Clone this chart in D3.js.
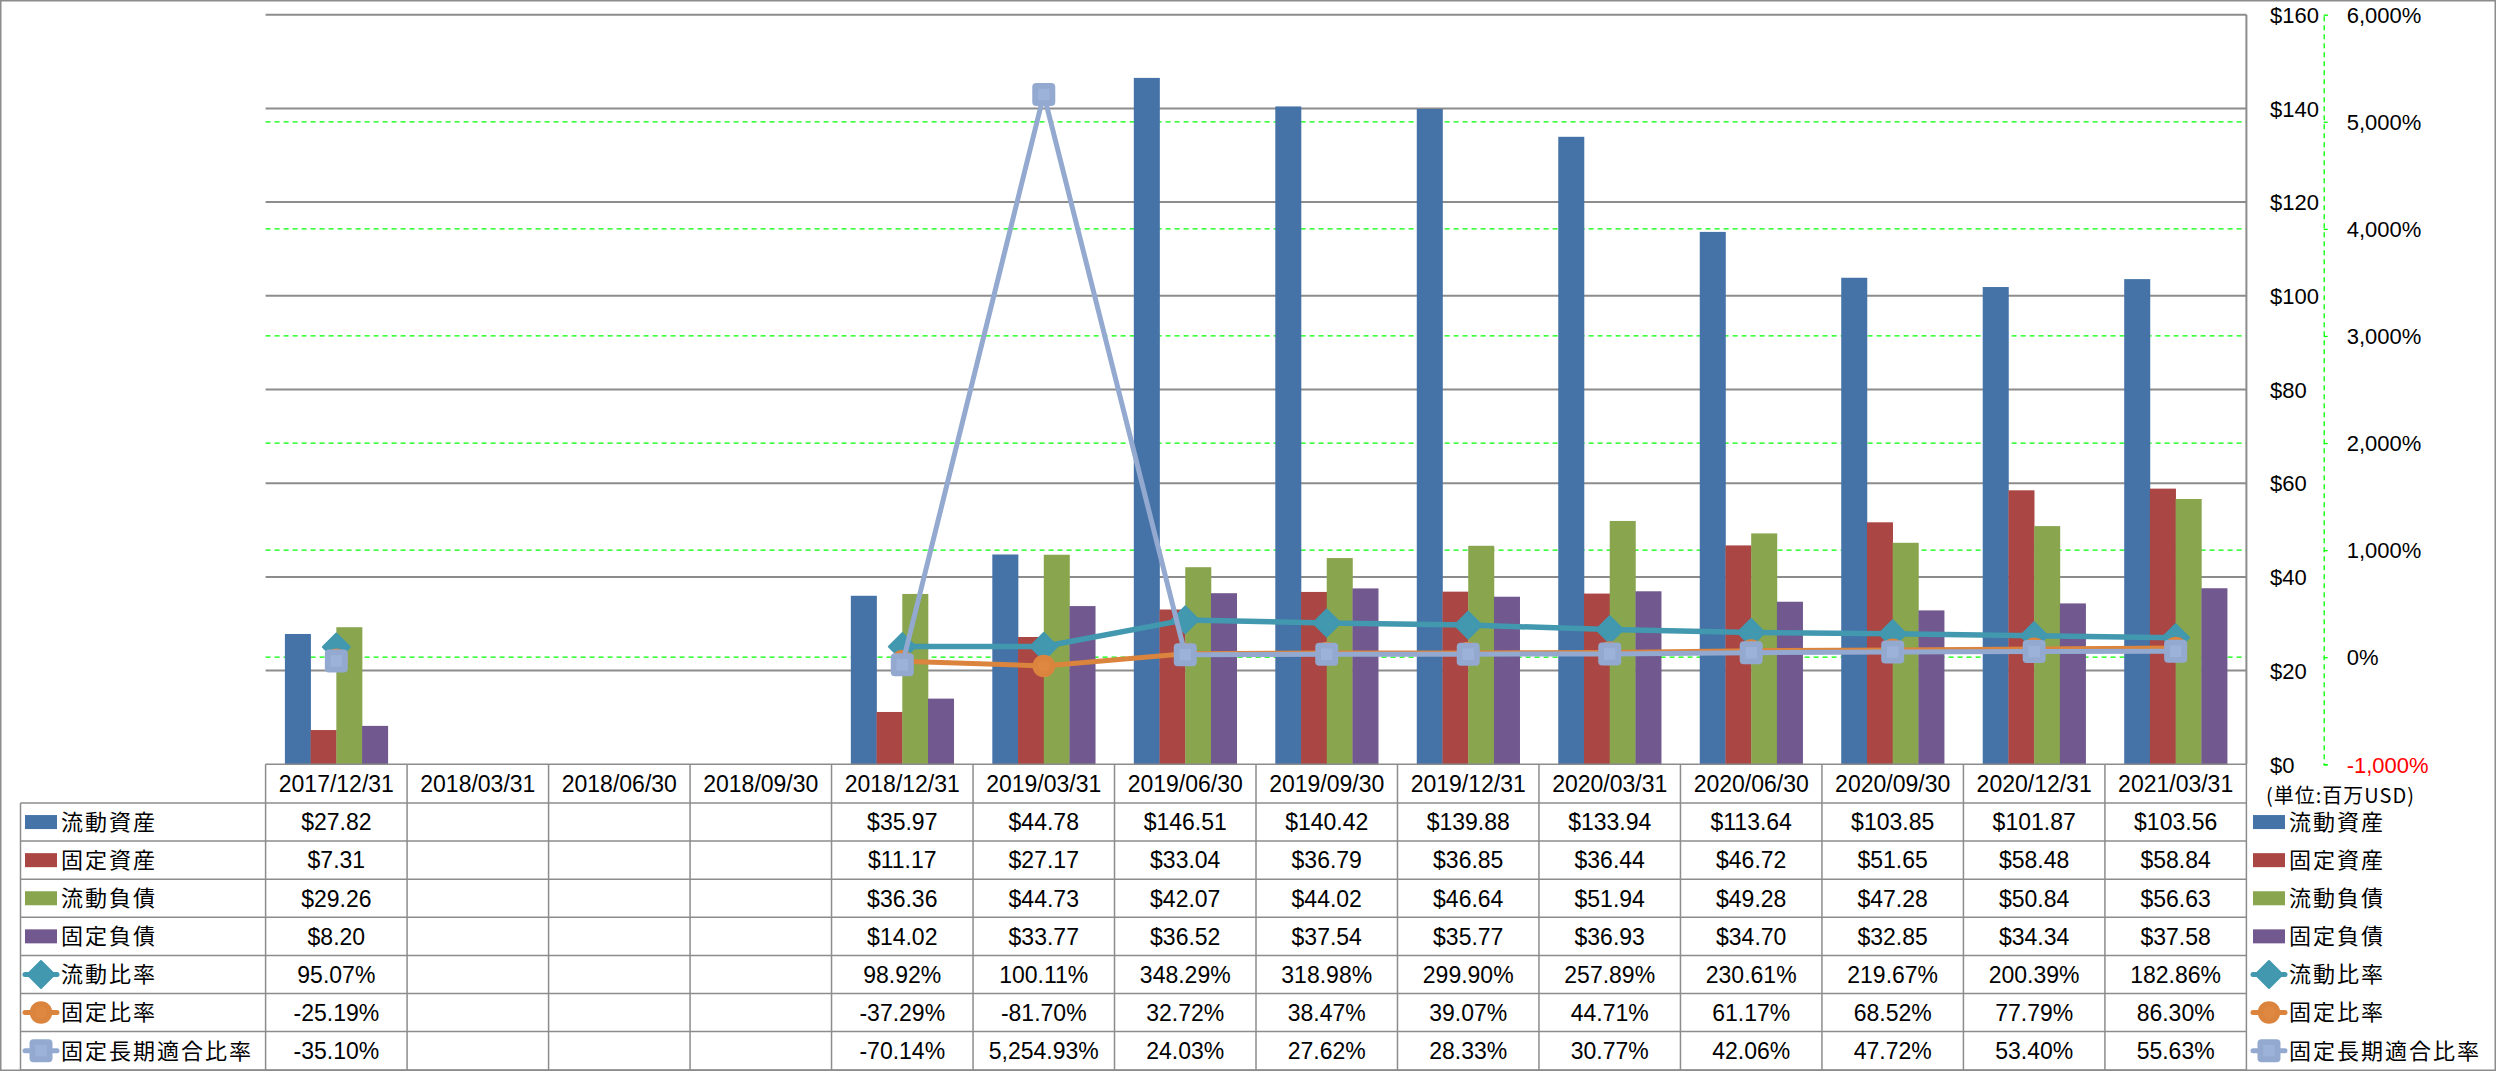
<!DOCTYPE html>
<html><head><meta charset="utf-8">
<script src="https://cdn.jsdelivr.net/npm/d3@7"></script>
<style>
html,body{margin:0;padding:0;background:#fff;}
svg{display:block;}
</style></head>
<body>
<svg id="chart" width="2496" height="1071"></svg>
<script>
// ---------- DATA ----------
const categories = ["2017/12/31","2018/03/31","2018/06/30","2018/09/30","2018/12/31","2019/03/31","2019/06/30","2019/09/30","2019/12/31","2020/03/31","2020/06/30","2020/09/30","2020/12/31","2021/03/31"];
const currentAssets   = [27.82, null, null, null, 35.97, 44.78, 146.51, 140.42, 139.88, 133.94, 113.64, 103.85, 101.87, 103.56];
const fixedAssets     = [7.31,  null, null, null, 11.17, 27.17, 33.04, 36.79, 36.85, 36.44, 46.72, 51.65, 58.48, 58.84];
const currentLiab     = [29.26, null, null, null, 36.36, 44.73, 42.07, 44.02, 46.64, 51.94, 49.28, 47.28, 50.84, 56.63];
const fixedLiab       = [8.20,  null, null, null, 14.02, 33.77, 36.52, 37.54, 35.77, 36.93, 34.70, 32.85, 34.34, 37.58];
const currentRatio    = [95.07, null, null, null, 98.92, 100.11, 348.29, 318.98, 299.90, 257.89, 230.61, 219.67, 200.39, 182.86];
const fixedRatio      = [-25.19, null, null, null, -37.29, -81.70, 32.72, 38.47, 39.07, 44.71, 61.17, 68.52, 77.79, 86.30];
const fixedLongRatio  = [-35.10, null, null, null, -70.14, 5254.93, 24.03, 27.62, 28.33, 30.77, 42.06, 47.72, 53.40, 55.63];
const barNames  = ["流動資産","固定資産","流動負債","固定負債"];
const lineNames = ["流動比率","固定比率","固定長期適合比率"];
const leftTicks  = [0,20,40,60,80,100,120,140,160];
const rightTicks = [-1000,0,1000,2000,3000,4000,5000,6000];
const unitLabel = "(単位:百万USD)";

// ---------- STYLE ----------
const barColors  = ["#4572A7","#AA4643","#89A54E","#71588F"];
const lineColors = ["#4198AF","#DB843D","#93A9CF"];
const markerTypes = ["diamond","circle","square"];
const gridGray = "#8c8c8c";
const numFont = "'Liberation Sans', Arial, sans-serif";
const cjkFont = "'Noto Sans CJK JP', 'Noto Sans', sans-serif";

const locale = d3.formatLocale({decimal: ".", thousands: ",", grouping: [3], currency: ["$", ""], minus: "-"});

const svg = d3.select("#chart");
const plotL = 265.6, plotR = 2246.4, plotT = 14.7, plotB = 764.3;
const rowH = 38.1, headerTop = 764.3, headerBot = 803, tableBot = 1070;
const legendColL = 20.5;

const x = d3.scaleBand().domain(categories).range([plotL, plotR]).paddingInner(0).paddingOuter(0);
const yL = d3.scaleLinear().domain([0,160]).range([plotB, plotT]);
const yR = d3.scaleLinear().domain([-1000,6000]).range([plotB, plotT]);
const barW = x.bandwidth() / 5.5;
const xb = d3.scaleBand().domain(d3.range(4)).range([0, barW*4]);

// outer border
svg.append("rect").attr("x",0.75).attr("y",0.75).attr("width",2494.5).attr("height",1069.5)
  .attr("fill","none").attr("stroke",gridGray).attr("stroke-width",1.5);

// green dashed secondary gridlines
svg.append("g").selectAll("line").data(rightTicks.filter(d=>d>-1000 && d<6000)).join("line")
  .attr("x1",plotL).attr("x2",plotR).attr("y1",d=>yR(d)).attr("y2",d=>yR(d))
  .attr("stroke","#00ff00").attr("stroke-width",1.3).attr("stroke-dasharray","5,4");

// gray primary gridlines
svg.append("g").selectAll("line").data(leftTicks.filter(d=>d>0)).join("line")
  .attr("x1",plotL).attr("x2",plotR).attr("y1",d=>yL(d)).attr("y2",d=>yL(d))
  .attr("stroke",gridGray).attr("stroke-width",2);
// plot right border
svg.append("line").attr("x1",plotR).attr("x2",plotR).attr("y1",plotT).attr("y2",plotB)
  .attr("stroke",gridGray).attr("stroke-width",2);

// bars
const barSeries = [currentAssets, fixedAssets, currentLiab, fixedLiab];
barSeries.forEach((s, si) => {
  svg.append("g").selectAll("rect").data(categories.map((c,i)=>({c, v:s[i]})).filter(d=>d.v!=null)).join("rect")
    .attr("x", d => x(d.c) + x.bandwidth()/2 - barW*2 + xb(si))
    .attr("width", barW + 0.3)
    .attr("y", d => yL(d.v))
    .attr("height", d => yL(0) - yL(d.v))
    .attr("fill", barColors[si]);
});

// markers
function drawMarker(g, type, cx, cy, color, scale=1) {
  if (type === "diamond") {
    const r = 13.5*scale;
    g.append("path").attr("d", `M${cx},${cy-r}L${cx+r},${cy}L${cx},${cy+r}L${cx-r},${cy}Z`)
      .attr("fill", color).attr("stroke", color).attr("stroke-width",2).attr("stroke-linejoin","round");
  } else if (type === "circle") {
    g.append("circle").attr("cx",cx).attr("cy",cy).attr("r",11.3*scale).attr("fill",color);
    g.append("circle").attr("cx",cx).attr("cy",cy).attr("r",6*scale).attr("fill","#e08a45").attr("opacity",0.6);
  } else {
    const s = 23*scale;
    g.append("rect").attr("x",cx-s/2).attr("y",cy-s/2).attr("width",s).attr("height",s).attr("rx",4*scale)
      .attr("fill",color);
    g.append("rect").attr("x",cx-s/4).attr("y",cy-s/4).attr("width",s/2).attr("height",s/2)
      .attr("fill","#9db2d8");
  }
}

// lines
const lineSeries = [currentRatio, fixedRatio, fixedLongRatio];
const lineW = [5.5, 5, 5];
lineSeries.forEach((s, si) => {
  const g = svg.append("g");
  const pts = categories.map((c,i)=>({c, v:s[i]}));
  const line = d3.line().defined(d=>d.v!=null).x(d=>x(d.c)+x.bandwidth()/2).y(d=>yR(d.v));
  g.append("path").datum(pts).attr("d", line).attr("fill","none")
    .attr("stroke", lineColors[si]).attr("stroke-width", lineW[si])
    .attr("stroke-linejoin","round").attr("stroke-linecap","round");
  pts.filter(d=>d.v!=null).forEach(d => drawMarker(g, markerTypes[si], x(d.c)+x.bandwidth()/2, yR(d.v), lineColors[si]));
});

// right axes
const axL = svg.append("g").attr("transform",`translate(2270,0)`)
  .call(d3.axisRight(yL).tickValues(leftTicks).tickSize(0).tickPadding(0).tickFormat(d=>"$"+d));
axL.select(".domain").remove();
axL.selectAll("text").attr("font-family",numFont).attr("font-size",22).attr("fill","#000").attr("dy","0.35em");

const fmtPct = locale.format(",");
const axR = svg.append("g").attr("transform",`translate(2323.7,0)`)
  .call(d3.axisRight(yR).tickValues(rightTicks).tickSize(4).tickSizeOuter(4).tickPadding(19).tickFormat(d=>fmtPct(d)+"%"));
axR.select(".domain").attr("stroke","#00ff00").attr("stroke-width",1.3).attr("stroke-dasharray","5,4");
axR.selectAll(".tick line").attr("stroke","#00ff00").attr("stroke-width",1.3);
axR.selectAll("text").attr("font-family",numFont).attr("font-size",22).attr("dy","0.35em")
  .attr("fill", d => d < 0 ? "#ff0000" : "#000");

// unit label
svg.append("text").attr("x",2266).attr("y",794).attr("dominant-baseline","central")
  .attr("font-family",cjkFont).attr("font-size",20).attr("letter-spacing",1).attr("fill","#000")
  .text(unitLabel);

// ---------- TABLE ----------
const tg = svg.append("g");
const tStroke = {stroke: gridGray, w: 1.5};
tg.append("line").attr("x1",plotL).attr("x2",plotR).attr("y1",headerTop).attr("y2",headerTop)
  .attr("stroke",tStroke.stroke).attr("stroke-width",tStroke.w);
const rowTops = d3.range(8).map(i => headerBot + i*rowH);
rowTops.forEach((y,i) => {
  tg.append("line").attr("x1",legendColL).attr("x2",plotR).attr("y1",i===7?tableBot:y).attr("y2",i===7?tableBot:y)
    .attr("stroke",tStroke.stroke).attr("stroke-width",tStroke.w);
});
const colEdges = categories.map(c => x(c)).concat([plotR]);
colEdges.forEach(xv => {
  tg.append("line").attr("x1",xv).attr("x2",xv).attr("y1",headerTop).attr("y2",tableBot)
    .attr("stroke",tStroke.stroke).attr("stroke-width",tStroke.w);
});
tg.append("line").attr("x1",legendColL).attr("x2",legendColL).attr("y1",headerBot).attr("y2",tableBot)
  .attr("stroke",tStroke.stroke).attr("stroke-width",tStroke.w);

tg.selectAll("text.hdr").data(categories).join("text").attr("class","hdr")
  .attr("x", d => x(d)+x.bandwidth()/2).attr("y", (headerTop+headerBot)/2)
  .attr("text-anchor","middle").attr("dy","0.36em")
  .attr("font-family",numFont).attr("font-size",23).attr("fill","#000").text(d=>d);

const fmt2 = locale.format(",.2f");
const fmtMoney = d => "$" + fmt2(d);
const fmtRatio = d => fmt2(d) + "%";
const allSeries = barSeries.concat(lineSeries);
const allNames = barNames.concat(lineNames);
allSeries.forEach((s, ri) => {
  const cy = headerBot + ri*rowH + rowH/2;
  const fmt = ri < 4 ? fmtMoney : fmtRatio;
  tg.append("g").selectAll("text").data(categories.map((c,i)=>({c,v:s[i]})).filter(d=>d.v!=null)).join("text")
    .attr("x", d => x(d.c)+x.bandwidth()/2).attr("y", cy).attr("dy","0.36em")
    .attr("text-anchor","middle").attr("font-family",numFont).attr("font-size",23).attr("fill","#000")
    .text(d => fmt(d.v));
});

function legendKey(g, ri, x0, x1, cy) {
  if (ri < 4) {
    g.append("rect").attr("x",x0).attr("y",cy-7).attr("width",x1-x0).attr("height",14).attr("fill",barColors[ri]);
  } else {
    const li = ri-4;
    g.append("line").attr("x1",x0).attr("x2",x1).attr("y1",cy).attr("y2",cy)
      .attr("stroke",lineColors[li]).attr("stroke-width",5).attr("stroke-linecap","round");
    drawMarker(g, markerTypes[li], (x0+x1)/2, cy, lineColors[li]);
  }
}
allNames.forEach((n, ri) => {
  const cy = headerBot + ri*rowH + rowH/2;
  legendKey(tg, ri, 25, 57, cy);
  tg.append("text").attr("x",61).attr("y",cy).attr("dy","0.36em")
    .attr("font-family",cjkFont).attr("font-size",22).attr("letter-spacing",2).attr("fill","#000").text(n);
  legendKey(tg, ri, 2253, 2285, cy);
  tg.append("text").attr("x",2289).attr("y",cy).attr("dy","0.36em")
    .attr("font-family",cjkFont).attr("font-size",22).attr("letter-spacing",2).attr("fill","#000").text(n);
});
</script>
</body></html>
